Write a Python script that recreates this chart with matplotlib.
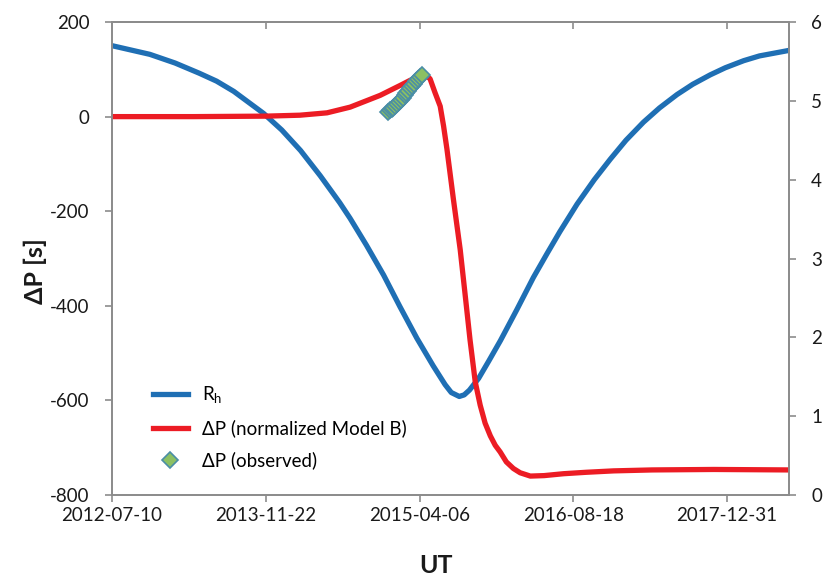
import matplotlib
matplotlib.use("Agg")
import matplotlib.pyplot as plt
import matplotlib.dates as mdates
import numpy as np
import pandas as pd

plt.rcParams['font.family'] = ['Lato', 'DejaVu Sans']
plt.rcParams['axes.unicode_minus'] = False

# heliocentric distance (AU), right axis
rh_dates = ['2012-07-10', '2012-11-10', '2013-01-31', '2013-04-20', '2013-06-15',
            '2013-08-10', '2013-11-15', '2014-01-13', '2014-03-15', '2014-05-18',
            '2014-07-20', '2014-08-23', '2014-10-15', '2014-12-10', '2015-02-01',
            '2015-03-28', '2015-05-20', '2015-06-28', '2015-07-18', '2015-08-13',
            '2015-08-29', '2015-09-15', '2015-10-15', '2015-11-17', '2015-12-25',
            '2016-02-16', '2016-04-10', '2016-05-24', '2016-07-05', '2016-08-30',
            '2016-10-25', '2016-12-16', '2017-02-05', '2017-04-03', '2017-05-25',
            '2017-07-21', '2017-09-10', '2017-11-06', '2017-12-25', '2018-02-23',
            '2018-04-15', '2018-07-20']
rh_au = [5.70, 5.59, 5.48, 5.35, 5.25,
         5.12, 4.84, 4.63, 4.37, 4.05,
         3.71, 3.51, 3.17, 2.79, 2.39,
         1.99, 1.64, 1.40, 1.30, 1.25,
         1.27, 1.33, 1.48, 1.70, 1.96,
         2.35, 2.76, 3.06, 3.34, 3.69,
         4.00, 4.26, 4.50, 4.73, 4.91,
         5.08, 5.21, 5.33, 5.42, 5.51,
         5.57, 5.64]

# model B period change (s), left axis
model_dates = ['2012-07-10', '2013-04-01', '2013-11-22', '2014-03-13', '2014-06-09',
               '2014-08-23', '2014-10-17', '2014-11-29', '2015-01-02', '2015-02-02',
               '2015-03-07', '2015-04-08', '2015-04-25', '2015-05-10', '2015-05-26',
               '2015-06-12', '2015-06-23', '2015-07-04', '2015-07-25', '2015-08-16',
               '2015-09-01', '2015-09-17', '2015-10-04', '2015-10-20', '2015-11-05',
               '2015-11-22', '2015-12-08', '2015-12-24', '2016-01-13', '2016-02-05',
               '2016-02-27', '2016-03-31', '2016-05-15', '2016-07-17', '2016-09-28',
               '2016-12-27', '2017-05-01', '2017-11-18', '2018-07-20']
model_dp = [0, 0, 1, 3, 8,
            20, 34, 45, 56, 66,
            77, 85, 88, 80, 51,
            22, -20, -69, -175, -281,
            -376, -472, -561, -610, -648,
            -675, -695, -709, -730, -744,
            -753, -760, -759, -755, -752,
            -749, -747, -746, -747]

# observed period change (s)
obs_dates = ['2014-12-24', '2014-12-30', '2015-01-05', '2015-01-11', '2015-01-17',
             '2015-01-23', '2015-01-29', '2015-02-04', '2015-02-10', '2015-02-16',
             '2015-02-22', '2015-02-28', '2015-03-06', '2015-03-12', '2015-03-18',
             '2015-03-25', '2015-04-01', '2015-04-08', '2015-04-14']
obs_dp = [10, 13, 16, 19, 23,
          27, 31, 35, 40, 45,
          50, 55, 60, 65, 70,
          75, 80, 84, 87]

tick_dates = ['2012-07-10', '2013-11-22', '2015-04-06', '2016-08-18', '2017-12-31']

rh_x = pd.to_datetime(rh_dates)
model_x = pd.to_datetime(model_dates)
obs_x = pd.to_datetime(obs_dates)
ticks_x = pd.to_datetime(tick_dates)

blue = '#1F6FB4'
red = '#EC1C24'
grey = '#8C8C8C'
txt = '#1a1a1a'

fig = plt.figure(figsize=(8.26, 5.78), dpi=100)
ax = fig.add_axes([0.1356, 0.1436, 0.8196, 0.8183])
ax2 = ax.twinx()

l_rh, = ax2.plot(rh_x, rh_au, color=blue, lw=3.8, solid_joinstyle='round',
                 label=r'R$_\mathregular{h}$')
l_mod, = ax.plot(model_x, model_dp, color=red, lw=3.8, solid_joinstyle='round',
                 label='ΔP (normalized Model B)')
l_obs, = ax.plot(obs_x, obs_dp, ls='none', marker='D', ms=8, mfc='#8CC063', mec='#4A8EA6',
                 mew=1.2, label='ΔP (observed)')

# left axis drawn over the twin so the red curve sits on top of the blue one
ax.set_zorder(ax2.get_zorder() + 1)
ax.patch.set_visible(False)

ax.set_xlim(pd.Timestamp('2012-07-10'), pd.Timestamp('2018-07-20'))
ax.set_ylim(-800, 200)
ax2.set_ylim(0, 6)
ax.set_yticks(np.arange(-800, 201, 200))
ax2.set_yticks(np.arange(0, 7, 1))
ax.set_xticks(ticks_x)
ax.xaxis.set_major_formatter(mdates.DateFormatter('%Y-%m-%d'))

for a in (ax, ax2):
    for sp in a.spines.values():
        sp.set_color(grey)
        sp.set_linewidth(1.3)

ax.tick_params(axis='y', length=5, width=1.2, color=grey, pad=11, labelsize=13.5, labelcolor=txt)
ax2.tick_params(axis='y', length=5, width=1.2, color=grey, pad=11, labelsize=13.5, labelcolor=txt)
ax.tick_params(axis='x', length=5, width=1.2, color=grey, pad=4, labelsize=13.5, labelcolor=txt)

top = ax.secondary_xaxis('top')
top.set_xticks(ticks_x)
top.tick_params(direction='in', length=5, width=1.2, color=grey, labeltop=False)
top.spines['top'].set_color(grey)
top.spines['top'].set_linewidth(1.3)

ax.set_ylabel('ΔP [s]', fontsize=18, fontweight='bold', color=txt)
ax.yaxis.set_label_coords(-0.096, 0.474)
ax.set_xlabel('UT', fontsize=18, fontweight='bold', color=txt)
ax.xaxis.set_label_coords(0.479, -0.125)

ax.legend(handles=[l_rh, l_mod, l_obs], loc='center left', bbox_to_anchor=(0.06, 0.144),
          frameon=False, fontsize=13.5, borderaxespad=0, borderpad=0,
          handlelength=1.9, handletextpad=0.75, labelspacing=0.75)

fig.savefig('out.png', dpi=100)
